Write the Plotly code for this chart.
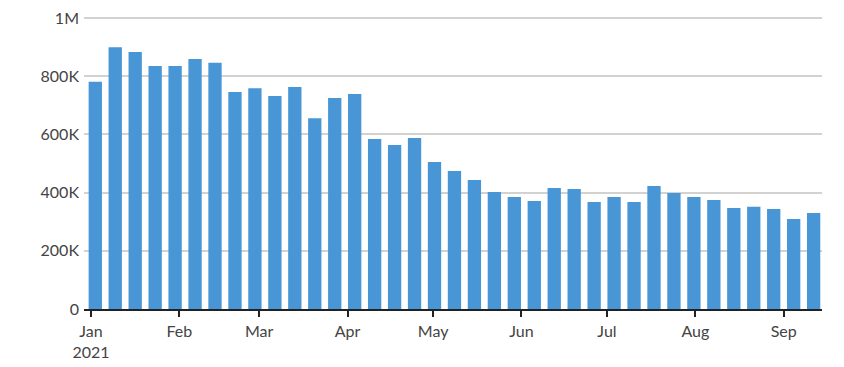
import plotly.graph_objects as go
import pandas as pd

week_ending = pd.date_range("2021-01-02", periods=37, freq="7D")
claims = [781000, 900000, 883000, 835000, 835000, 859000, 846000, 746000, 759000, 732000,
          763000, 656000, 725000, 739000, 584000, 564000, 588000, 505000, 474000, 443000,
          402000, 385000, 371000, 416000, 412000, 368000, 385000, 368000, 423000, 399000,
          385000, 375000, 347000, 351000, 344000, 309000, 330000]

tick_dates = ["2021-01-01", "2021-02-01", "2021-03-01", "2021-04-01", "2021-05-01",
              "2021-06-01", "2021-07-01", "2021-08-01", "2021-09-01"]
tick_text = ["Jan<br>2021", "Feb", "Mar", "Apr", "May", "Jun", "Jul", "Aug", "Sep"]
y_ticks = [0, 200000, 400000, 600000, 800000, 1000000]
y_text = ["0", "200K", "400K", "600K", "800K", "1M"]

DAY = 86400000
bar_w = 4.67 * DAY

fig = go.Figure(go.Bar(
    x=week_ending, y=claims,
    width=bar_w, offset=-bar_w / 2 + 0.5 * DAY,
    marker=dict(color="#4896d6", line=dict(width=0)),
))

fig.update_layout(
    width=844, height=367,
    margin=dict(l=84, r=22, t=16, b=58),
    paper_bgcolor="white", plot_bgcolor="white",
    font=dict(family="Lato, Open Sans, sans-serif", size=16, color="#444444"),
    showlegend=False,
    xaxis=dict(
        type="date",
        range=["2020-12-29 13:00", "2021-09-14 10:30"],
        tickvals=tick_dates, ticktext=tick_text,
        ticks="outside", ticklen=6, tickwidth=2, tickcolor="#222222",
        showline=True, linecolor="#222222", linewidth=1.5,
        showgrid=False, zeroline=False,
        ticklabelstandoff=1, automargin=False,
    ),
    yaxis=dict(
        range=[0, 1007000],
        tickvals=y_ticks, ticktext=y_text,
        showgrid=True, gridcolor="#d2d2d2", gridwidth=1.5,
        zeroline=False, showline=False,
        ticks="", ticklabelstandoff=4,
        ticklabeloverflow="allow", automargin=False,
    ),
)

fig.write_html("out.html", config={"displayModeBar": False},
               post_script="document.body.style.margin='0px';")
